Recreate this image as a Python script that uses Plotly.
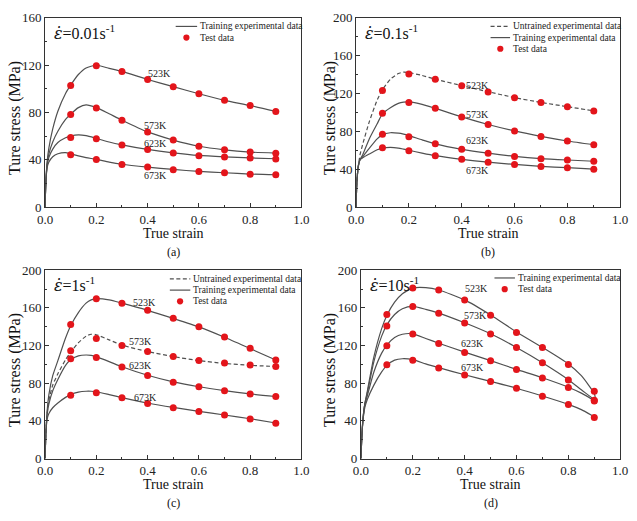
import plotly.graph_objects as go

# ---------------- data ----------------
test_strain = [0.1, 0.2, 0.3, 0.4, 0.5, 0.6, 0.7, 0.8, 0.9]
temps = ["523K", "573K", "623K", "673K"]

# (a) 0.01 s^-1
a_strain = [0, 0.003, 0.008, 0.015, 0.03, 0.05, 0.08, 0.1, 0.13, 0.16, 0.2, 0.25, 0.3, 0.4, 0.5, 0.6, 0.7, 0.8, 0.9]
a_523 = [0, 20, 38, 50, 66, 81, 96, 103, 112, 117.5, 119.8, 117.2, 114.6, 107.8, 101.7, 95.7, 90.2, 85.8, 80.8]
a_573 = [0, 20, 36, 45, 55, 64, 74, 78.5, 84, 86.3, 84, 78.8, 73.4, 63.5, 56.6, 51.4, 48.4, 46.5, 45.6]
a_623 = [0, 20, 35, 42, 49, 54.5, 58.5, 60, 61, 60.3, 58, 55, 52.6, 48.7, 45.8, 43.6, 42.4, 41.5, 40.8]
a_673 = [0, 20, 33, 38, 42.5, 45, 46, 45, 43.3, 41.8, 40.3, 38, 36.2, 33.8, 31.8, 30.1, 29, 27.9, 27.3]
a_test_523 = [102.8, 119.3, 114.6, 107.8, 101.7, 95.7, 90.2, 85.8, 80.8]
a_test_573 = [78.1, 83.6, 73.4, 63.5, 56.6, 51.4, 48.4, 46.5, 45.4]
a_test_623 = [58.8, 57.7, 52.5, 48.7, 45.6, 43.4, 42.3, 41.5, 40.7]
a_test_673 = [44.3, 40.1, 36.0, 33.8, 31.6, 30.0, 28.9, 27.8, 27.2]

# (b) 0.1 s^-1  (523K untrained)
b_strain = [0, 0.003, 0.008, 0.015, 0.025, 0.05, 0.08, 0.1, 0.13, 0.16, 0.18, 0.2, 0.25, 0.3, 0.4, 0.5, 0.6, 0.7, 0.8, 0.9]
b_523 = [0, 25, 42, 55, 66, 90, 113, 124, 135, 141, 142.5, 142, 139, 135, 128.3, 121.8, 115.6, 110.5, 106, 101.6]
b_573 = [0, 25, 42, 50, 55, 72, 88, 98.5, 105, 109.5, 110.8, 111, 108.5, 104.3, 95.2, 87.2, 80.4, 74.7, 69.8, 65.8]
b_623 = [0, 25, 42, 50, 53, 62, 72, 76.5, 78.5, 78, 77, 75.5, 71, 66.8, 61, 56.9, 53.6, 51.2, 49.7, 48.4]
b_673 = [0, 25, 42, 50, 52, 56, 60.5, 62.3, 63, 62.3, 61.2, 60, 57, 54.3, 50.4, 47.4, 45, 43, 41.6, 40]
b_test_523 = [123.0, 140.4, 134.9, 128.1, 121.6, 115.5, 110.4, 106.0, 101.5]
b_test_573 = [99.1, 110.4, 104.3, 95.1, 87.2, 80.4, 74.6, 69.8, 65.8]
b_test_623 = [77.0, 74.3, 66.8, 61.0, 56.9, 53.5, 51.1, 49.7, 48.4]
b_test_673 = [62.7, 59.6, 54.2, 50.4, 47.4, 45.0, 42.9, 41.6, 39.9]

# (c) 1 s^-1  (573K untrained)
c_strain = [0, 0.003, 0.008, 0.015, 0.03, 0.05, 0.08, 0.1, 0.13, 0.16, 0.18, 0.2, 0.25, 0.3, 0.4, 0.5, 0.6, 0.7, 0.8, 0.9]
c_523 = [0, 25, 50, 68, 88, 104, 128, 141, 155, 165, 168.5, 169.8, 168.5, 165, 157.4, 148.8, 139.8, 128.8, 116.8, 104.7]
c_573 = [0, 25, 48, 62, 78, 90, 105, 113, 123, 130, 132, 131.5, 126, 120.5, 113.6, 108.3, 104, 101, 99, 97.8]
c_623 = [0, 25, 46, 58, 72, 84, 99, 105, 109, 110, 109.5, 108, 103, 97.5, 88.5, 81.5, 76.3, 72.2, 68.7, 65.9]
c_673 = [0, 25, 42, 48, 54, 59, 65, 68, 70.5, 71.5, 71.5, 71, 68, 64.8, 59, 54.3, 50.2, 46.3, 42.3, 37.8]
c_test_523 = [142.4, 169.7, 164.8, 157.6, 149.0, 140.0, 129.0, 117.2, 104.8]
c_test_573 = [114.5, 127.6, 120.0, 113.8, 108.3, 104.1, 101.4, 99.3, 97.9]
c_test_623 = [105.9, 107.2, 97.2, 88.3, 81.0, 76.2, 72.1, 68.6, 65.9]
c_test_673 = [67.2, 70.0, 64.5, 58.6, 54.1, 50.0, 46.2, 42.1, 37.6]

# (d) 10 s^-1
d_strain = [0, 0.003, 0.008, 0.015, 0.025, 0.05, 0.08, 0.1, 0.13, 0.16, 0.2, 0.25, 0.3, 0.4, 0.5, 0.6, 0.7, 0.8, 0.85, 0.9, 0.905]
d_523 = [0, 20, 42, 58, 72, 108, 138, 152, 166, 175, 181, 181.5, 179, 168.5, 152.5, 134.5, 118, 100.5, 88, 69, 63]
d_573 = [0, 20, 42, 58, 70, 103, 130, 142, 153, 159, 161.5, 158.5, 154.5, 144.2, 132.5, 118, 101.8, 83.8, 73, 62.5, 61]
d_623 = [0, 20, 42, 57, 67, 92, 112, 120.5, 128.5, 132, 132.5, 127.5, 122.5, 113, 104, 94.7, 85.8, 75.8, 69.5, 61.5, 60.5]
d_673 = [0, 20, 40, 54, 63, 78, 92, 99, 104.5, 106, 105, 100.5, 96.5, 89, 82, 74.7, 66.5, 57.6, 52, 44.5, 43.8]
d_test_523 = [152.9, 181.1, 179.0, 168.4, 152.2, 134.0, 117.9, 100.0, 71.5]
d_test_573 = [140.9, 161.5, 154.3, 144.0, 132.3, 117.9, 101.7, 83.5, 61.9]
d_test_623 = [119.9, 132.3, 122.3, 112.7, 103.8, 94.5, 85.6, 75.6, 61.2]
d_test_673 = [99.7, 104.5, 96.2, 88.7, 81.8, 74.6, 66.3, 57.4, 43.6]

rate_labels = ["0.01", "0.1", "1", "10"]
y_max = [160, 200, 200, 200]
captions = ["(a)", "(b)", "(c)", "(d)"]
legend_untrained = "Untrained experimental data"
legend_training = "Training experimental data"
legend_test = "Test data"

# label positions (strain, stress) for temperature tags
a_lab = [(0.445, 113), (0.432, 68.7), (0.432, 53.3), (0.432, 26.8)]
b_lab = [(0.46, 128.5), (0.46, 97.5), (0.46, 70), (0.46, 38.5)]
c_lab = [(0.388, 166), (0.373, 124), (0.371, 98.6), (0.39, 65)]
d_lab = [(0.445, 180.5), (0.44, 151.5), (0.43, 122.5), (0.43, 96.5)]

# ---------------- layout geometry (pixels) ----------------
W, H = 637, 521
FONT = "Liberation Serif"
CURVE = "#505050"
RED = "#e3151b"
DASH = "4px,2.5px"

boxes = [  # x0, x1, ytop, ybottom in pixels
    (38, 301, 11, 206),
    (357, 628, 11, 206),
    (38, 301, 271, 465),
    (362, 628, 271, 465),
]

# manual compact legends: (line x0, line x1, text x, first row y, has_untrained)
legend_geo = [
    (172, 194, 195, 20, False),
    (495, 515, 516, 20, True),
    (166, 187, 188, 280, True),
    (499, 520, 521, 279, False),
]
ROW = 11.5


def fx(p):
    return p / W


def fy(p):
    return 1 - p / H


panels = [
    (a_strain, [a_523, a_573, a_623, a_673], [a_test_523, a_test_573, a_test_623, a_test_673], None, a_lab),
    (b_strain, [b_523, b_573, b_623, b_673], [b_test_523, b_test_573, b_test_623, b_test_673], 0, b_lab),
    (c_strain, [c_523, c_573, c_623, c_673], [c_test_523, c_test_573, c_test_623, c_test_673], 1, c_lab),
    (d_strain, [d_523, d_573, d_623, d_673], [d_test_523, d_test_573, d_test_623, d_test_673], None, d_lab),
]

fig = go.Figure()
annotations = []
shapes = []
layout = {}

for i, (strain, curves, tests, untrained, labs) in enumerate(panels):
    n = "" if i == 0 else str(i + 1)
    xa, ya = "x" + n, "y" + n
    for k, (cv, t) in enumerate(zip(curves, temps)):
        is_untr = (untrained == k)
        fig.add_trace(go.Scatter(
            x=strain, y=cv, mode="lines",
            name=(legend_untrained if is_untr else legend_training) + " " + t,
            showlegend=False, xaxis=xa, yaxis=ya,
            line=dict(color=CURVE, width=1.2, shape="spline", smoothing=0.6,
                      dash=DASH if is_untr else "solid"),
            hoverinfo="skip"))
    for k, (tv, t) in enumerate(zip(tests, temps)):
        fig.add_trace(go.Scatter(
            x=test_strain, y=tv, mode="markers", name=legend_test + " " + t,
            showlegend=False, xaxis=xa, yaxis=ya,
            marker=dict(color=RED, size=7, line=dict(width=0))))

    x0, x1, yt, yb = boxes[i]
    common = dict(showline=True, mirror=True, linecolor="#333333", linewidth=1,
                  showgrid=False, zeroline=False, ticks="inside",
                  tickcolor="#333333", ticklen=4,
                  tickfont=dict(family=FONT, size=13, color="#222222"))
    layout["xaxis" + n] = dict(domain=[fx(x0), fx(x1)], anchor=ya, range=[0, 1],
                               tickmode="array",
                               tickvals=[0, 0.2, 0.4, 0.6, 0.8, 1.0],
                               ticktext=["0.0", "0.2", "0.4", "0.6", "0.8", "1.0"],
                               minor=dict(tickvals=[0.1, 0.3, 0.5, 0.7, 0.9], ticks="inside",
                                          ticklen=2, tickcolor="#333333"),
                               **common)
    layout["yaxis" + n] = dict(domain=[fy(yb), fy(yt)], anchor=xa, range=[0, y_max[i]],
                               dtick=40, tick0=0,
                               minor=dict(dtick=20, ticks="inside", ticklen=2,
                                          tickcolor="#333333"),
                               **common)

    # compact legend
    lx0, lx1, tx, ry, has_u = legend_geo[i]
    entries = []
    if has_u:
        entries.append(("dash", legend_untrained))
    entries.append(("solid", legend_training))
    entries.append(("marker", legend_test))
    for r, (kind, label) in enumerate(entries):
        yy = ry + r * ROW
        if kind == "marker":
            cx = (lx0 + lx1) / 2
            shapes.append(dict(type="circle", xref="paper", yref="paper",
                               x0=fx(cx - 3.2), x1=fx(cx + 3.2), y0=fy(yy + 3.2), y1=fy(yy - 3.2),
                               fillcolor=RED, line=dict(width=0)))
        else:
            shapes.append(dict(type="line", xref="paper", yref="paper",
                               x0=fx(lx0), x1=fx(lx1), y0=fy(yy), y1=fy(yy),
                               line=dict(color=CURVE, width=1.2,
                                         dash=DASH if kind == "dash" else "solid")))
        annotations.append(dict(text=label, xref="paper", yref="paper",
                                x=fx(tx), y=fy(yy), xanchor="left", yanchor="middle",
                                showarrow=False,
                                font=dict(family=FONT, size=9.5, color="#222222")))

    # strain-rate label (epsilon with combining dot above)
    annotations.append(dict(
        text="<span style='font-family:DejaVu Serif'><i>ε̇</i></span>=" + rate_labels[i]
             + "s<sup>-1</sup>",
        xref="paper", yref="paper", x=fx(x0 + 7), y=fy(yt + 15),
        xanchor="left", yanchor="middle", showarrow=False,
        font=dict(family=FONT, size=16, color="#111111")))
    # temperature labels
    for t, (sx, sy) in zip(temps, labs):
        annotations.append(dict(text=t, xref=xa, yref=ya, x=sx, y=sy,
                                showarrow=False, xanchor="center", yanchor="middle",
                                font=dict(family=FONT, size=10, color="#222222")))
    # axis titles
    annotations.append(dict(text="True strain", xref="paper", yref="paper",
                            x=fx((x0 + x1) / 2), y=fy(yb + 27), xanchor="center",
                            yanchor="middle", showarrow=False,
                            font=dict(family=FONT, size=14, color="#111111")))
    ytx = 7 if i in (0, 2) else 331
    annotations.append(dict(text="Ture stress (MPa)", xref="paper", yref="paper",
                            x=fx(ytx), y=fy((yt + yb) / 2 + 6), xanchor="center",
                            yanchor="middle", textangle=-90, showarrow=False,
                            font=dict(family=FONT, size=16, color="#111111")))
    annotations.append(dict(text=captions[i], xref="paper", yref="paper",
                            x=fx((x0 + x1) / 2), y=fy(yb + 46), xanchor="center",
                            yanchor="middle", showarrow=False,
                            font=dict(family=FONT, size=12, color="#111111")))

fig.update_layout(
    width=W, height=H, margin=dict(l=0, r=0, t=0, b=0),
    paper_bgcolor="white", plot_bgcolor="white", showlegend=False,
    font=dict(family=FONT, color="#222222"),
    annotations=annotations, shapes=shapes, **layout)

fig.write_html("out.html")
